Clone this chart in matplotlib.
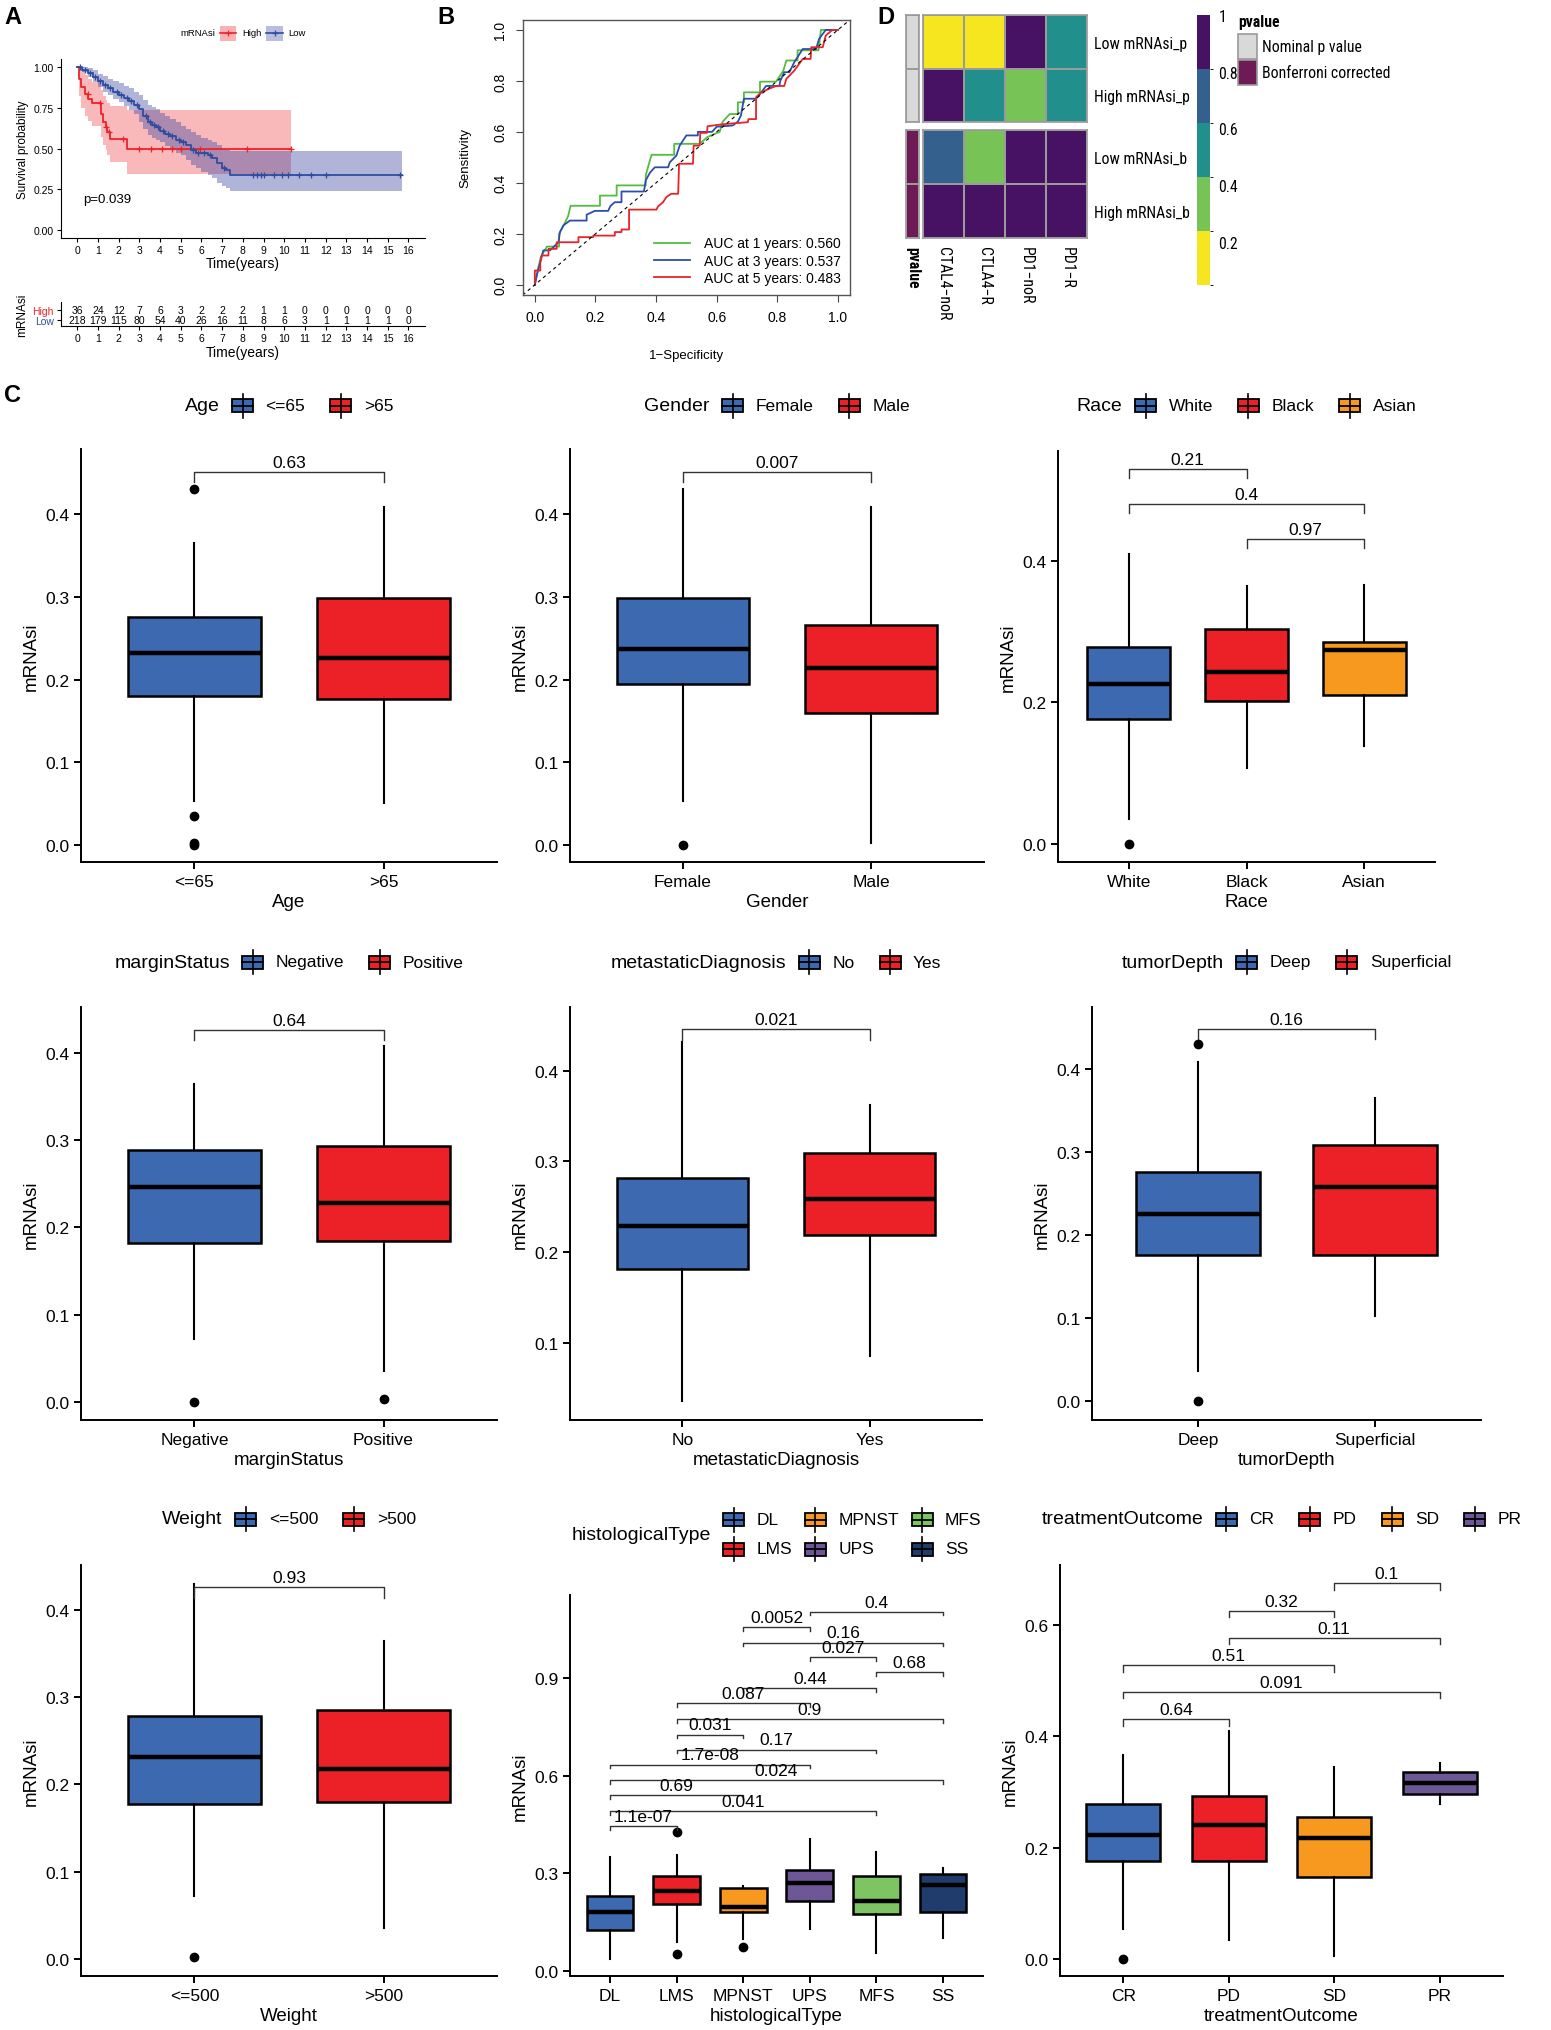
import os
import numpy as np
import matplotlib
matplotlib.use("Agg")
import matplotlib.pyplot as plt
from matplotlib import font_manager as fm
from matplotlib.patches import Rectangle
from matplotlib.colors import ListedColormap, BoundaryNorm
from matplotlib.cm import ScalarMappable

plt.rcParams["font.family"] = ["Liberation Sans", "DejaVu Sans"]

W, H = 1551, 2031

# ---------------- data: panel A (Kaplan-Meier) ----------------
high_t = [0, 0.08, 0.2, 0.37, 0.53, 0.7, 1.13, 1.26, 1.38, 1.45, 1.58, 2.42, 10.35]
high_s = [1.0, 0.93, 0.877, 0.836, 0.805, 0.78, 0.713, 0.662, 0.631, 0.6, 0.56, 0.5, 0.5]
high_up = [1.0, 1.0, 0.98, 0.95, 0.93, 0.91, 0.86, 0.82, 0.8, 0.78, 0.76, 0.738, 0.738]
high_lo = [1.0, 0.82, 0.75, 0.7, 0.67, 0.64, 0.57, 0.52, 0.49, 0.46, 0.42, 0.344, 0.344]
high_cens = [0.5, 1.1, 1.4, 1.55, 2.2, 3.0, 3.55, 4.1, 4.6, 5.0, 5.95, 8.2, 10.35]

low_t = [0, 0.25, 0.5, 0.75, 1.0, 1.25, 1.5, 1.75, 2.0, 2.25, 2.5, 2.75, 3.0, 3.2, 3.4,
         3.6, 3.8, 4.0, 4.25, 4.5, 4.75, 5.0, 5.25, 5.5, 5.75, 6.0, 6.3, 6.5, 6.75, 7.0,
         7.2, 7.4, 15.7]
low_s = [1.0, 0.985, 0.965, 0.94, 0.915, 0.89, 0.87, 0.85, 0.83, 0.81, 0.79, 0.77, 0.74,
         0.70, 0.66, 0.645, 0.63, 0.61, 0.59, 0.575, 0.555, 0.54, 0.52, 0.49, 0.475, 0.47,
         0.46, 0.44, 0.41, 0.38, 0.37, 0.338, 0.338]
low_up = [1.0, 1.0, 0.995, 0.98, 0.96, 0.945, 0.93, 0.915, 0.9, 0.885, 0.87, 0.85, 0.83,
          0.80, 0.77, 0.755, 0.74, 0.72, 0.70, 0.68, 0.66, 0.64, 0.62, 0.6, 0.58, 0.565,
          0.555, 0.54, 0.52, 0.5, 0.49, 0.484, 0.484]
low_lo = [1.0, 0.97, 0.94, 0.91, 0.877, 0.85, 0.83, 0.805, 0.785, 0.76, 0.735, 0.71, 0.66,
          0.62, 0.58, 0.565, 0.55, 0.54, 0.515, 0.495, 0.475, 0.457, 0.43, 0.40, 0.38, 0.355,
          0.34, 0.32, 0.29, 0.27, 0.255, 0.236, 0.236]
low_cens = [0.15, 0.35, 0.6, 0.85, 1.1, 1.35, 1.6, 1.9, 2.1, 2.4, 2.6, 2.9, 3.3, 3.5, 3.7,
            3.9, 4.15, 4.4, 4.6, 4.9, 5.1, 5.6, 5.85, 6.1, 6.4, 7.1, 8.5, 8.7, 8.9, 9.0,
            9.5, 9.9, 10.2, 10.7, 11.3, 12.0, 15.6]

risk_times = list(range(17))
risk_high = [36, 24, 12, 7, 6, 3, 2, 2, 2, 1, 1, 0, 0, 0, 0, 0, 0]
risk_low = [218, 179, 115, 80, 54, 40, 26, 16, 11, 8, 6, 3, 1, 1, 1, 1, 0]

# ---------------- data: panel B (ROC) ----------------
roc1_fpr = [0, 0.01, 0.02, 0.04, 0.08, 0.08, 0.094, 0.11, 0.118, 0.215, 0.215, 0.27, 0.27,
            0.366, 0.366, 0.385, 0.46, 0.46, 0.544, 0.57, 0.61, 0.62, 0.643, 0.67, 0.67,
            0.69, 0.69, 0.743, 0.743, 0.796, 0.82, 0.83, 0.867, 0.867, 0.936, 0.944, 1.0]
roc1_tpr = [0, 0.06, 0.11, 0.15, 0.15, 0.20, 0.23, 0.27, 0.31, 0.31, 0.35, 0.35, 0.39,
            0.39, 0.43, 0.51, 0.51, 0.553, 0.553, 0.58, 0.60, 0.64, 0.67, 0.67, 0.716,
            0.716, 0.755, 0.755, 0.797, 0.797, 0.84, 0.88, 0.88, 0.92, 0.92, 1.0, 1.0]
roc3_fpr = [0, 0.007, 0.018, 0.028, 0.05, 0.078, 0.083, 0.094, 0.116, 0.171, 0.171, 0.198,
            0.242, 0.25, 0.264, 0.286, 0.286, 0.36, 0.366, 0.38, 0.396, 0.44, 0.445, 0.467,
            0.478, 0.5, 0.538, 0.538, 0.585, 0.6, 0.653, 0.67, 0.68, 0.69, 0.73, 0.747,
            0.763, 0.807, 0.81, 0.823, 0.84, 0.856, 0.884, 0.928, 0.938, 0.96, 1.0]
roc3_tpr = [0, 0.04, 0.089, 0.135, 0.135, 0.167, 0.207, 0.233, 0.252, 0.252, 0.275, 0.29,
            0.29, 0.31, 0.324, 0.324, 0.366, 0.366, 0.41, 0.44, 0.461, 0.461, 0.48, 0.507,
            0.546, 0.586, 0.586, 0.6, 0.6, 0.62, 0.625, 0.64, 0.664, 0.73, 0.73, 0.755,
            0.78, 0.78, 0.8, 0.834, 0.834, 0.873, 0.925, 0.925, 0.965, 1.0, 1.0]
roc5_fpr = [0, 0, 0.018, 0.018, 0.023, 0.045, 0.045, 0.072, 0.072, 0.144, 0.144, 0.193,
            0.193, 0.264, 0.264, 0.286, 0.286, 0.311, 0.311, 0.401, 0.407, 0.423, 0.434,
            0.45, 0.473, 0.476, 0.522, 0.524, 0.544, 0.546, 0.568, 0.57, 0.62, 0.703, 0.705,
            0.73, 0.73, 0.747, 0.775, 0.796, 0.823, 0.83, 0.856, 0.884, 0.91, 0.912, 0.95,
            0.96, 0.982, 1.0]
roc5_tpr = [0, 0.056, 0.056, 0.089, 0.115, 0.115, 0.141, 0.141, 0.167, 0.167, 0.187, 0.187,
            0.193, 0.193, 0.207, 0.207, 0.217, 0.217, 0.295, 0.295, 0.308, 0.324, 0.344,
            0.357, 0.357, 0.475, 0.475, 0.546, 0.546, 0.596, 0.596, 0.622, 0.63, 0.638, 0.65,
            0.65, 0.736, 0.755, 0.77, 0.78, 0.78, 0.808, 0.84, 0.886, 0.886, 0.932, 0.932,
            0.978, 1.0, 1.0]
roc_labels = ["AUC at 1 years: 0.560", "AUC at 3 years: 0.537", "AUC at 5 years: 0.483"]

# ---------------- data: panel D (heatmap) ----------------
hm_rows_p = ["Low mRNAsi_p", "High mRNAsi_p"]
hm_rows_b = ["Low mRNAsi_b", "High mRNAsi_b"]
hm_cols = ["CTAL4\u2212noR", "CTLA4\u2212R", "PD1\u2212noR", "PD1\u2212R"]
hm_p = [[0.12, 0.15, 0.95, 0.52],
        [0.93, 0.55, 0.33, 0.50]]
hm_b = [[0.70, 0.35, 1.00, 1.00],
        [1.00, 1.00, 1.00, 1.00]]
ann_labels = ["Nominal p value", "Bonferroni corrected"]
ann_colors = ["#D9D9D9", "#6E1A55"]

# ---------------- data: panel C (boxplots) ----------------
age_groups = ["<=65", ">65"]
age_q1 = [0.180, 0.177]; age_med = [0.232, 0.226]; age_q3 = [0.275, 0.298]
age_lo = [0.053, 0.051]; age_hi = [0.365, 0.408]; age_out = [[0.43, 0.036, 0.003, 0.0], []]
age_cmp = [(0, 1, "0.63", 0.45)]

gender_groups = ["Female", "Male"]
gender_q1 = [0.195, 0.160]; gender_med = [0.237, 0.214]; gender_q3 = [0.298, 0.266]
gender_lo = [0.053, 0.003]; gender_hi = [0.43, 0.408]; gender_out = [[0.0], []]
gender_cmp = [(0, 1, "0.007", 0.45)]

race_groups = ["White", "Black", "Asian"]
race_q1 = [0.1765, 0.201, 0.21]; race_med = [0.226, 0.242, 0.273]; race_q3 = [0.278, 0.304, 0.285]
race_lo = [0.035, 0.107, 0.138]; race_hi = [0.409, 0.364, 0.366]; race_out = [[0.0], [], []]
race_cmp = [(0, 1, "0.21", 0.529), (0, 2, "0.4", 0.48), (1, 2, "0.97", 0.43)]

margin_groups = ["Negative", "Positive"]
margin_q1 = [0.182, 0.185]; margin_med = [0.246, 0.228]; margin_q3 = [0.289, 0.293]
margin_lo = [0.072, 0.035]; margin_hi = [0.365, 0.408]; margin_out = [[0.0], [0.003]]
margin_cmp = [(0, 1, "0.64", 0.4266)]

meta_groups = ["No", "Yes"]
meta_q1 = [0.1816, 0.219]; meta_med = [0.229, 0.259]; meta_q3 = [0.282, 0.3095]
meta_lo = [0.0364, 0.0853]; meta_hi = [0.432, 0.362]; meta_out = [[], []]
meta_cmp = [(0, 1, "0.021", 0.446)]

depth_groups = ["Deep", "Superficial"]
depth_q1 = [0.1763, 0.176]; depth_med = [0.2247, 0.258]; depth_q3 = [0.2755, 0.308]
depth_lo = [0.0365, 0.1027]; depth_hi = [0.408, 0.365]; depth_out = [[0.43, 0.0], []]
depth_cmp = [(0, 1, "0.16", 0.448)]

weight_groups = ["<=500", ">500"]
weight_q1 = [0.178, 0.18]; weight_med = [0.232, 0.218]; weight_q3 = [0.279, 0.285]
weight_lo = [0.072, 0.035]; weight_hi = [0.43, 0.365]; weight_out = [[0.002], []]
weight_cmp = [(0, 1, "0.93", 0.4266)]

histo_groups = ["DL", "LMS", "MPNST", "UPS", "MFS", "SS"]
histo_q1 = [0.126, 0.206, 0.182, 0.214, 0.174, 0.180]
histo_med = [0.180, 0.244, 0.196, 0.270, 0.213, 0.263]
histo_q3 = [0.231, 0.292, 0.255, 0.310, 0.290, 0.296]
histo_lo = [0.037, 0.090, 0.098, 0.129, 0.056, 0.102]
histo_hi = [0.349, 0.356, 0.260, 0.405, 0.366, 0.315]
histo_out = [[], [0.428, 0.051], [0.0716], [], [], []]
histo_cmp = [(0, 1, "1.1e-07", 0.446), (0, 4, "0.041", 0.492), (0, 2, "0.69", 0.541),
             (0, 5, "0.024", 0.587), (0, 3, "1.7e-08", 0.634), (1, 4, "0.17", 0.680),
             (1, 2, "0.031", 0.726), (1, 5, "0.9", 0.774), (1, 3, "0.087", 0.822),
             (2, 4, "0.44", 0.868), (4, 5, "0.68", 0.917), (3, 4, "0.027", 0.963),
             (2, 5, "0.16", 1.009), (2, 3, "0.0052", 1.057), (3, 5, "0.4", 1.104)]

treat_groups = ["CR", "PD", "SD", "PR"]
treat_q1 = [0.176, 0.176, 0.148, 0.296]; treat_med = [0.223, 0.240, 0.218, 0.316]
treat_q3 = [0.2785, 0.292, 0.256, 0.335]; treat_lo = [0.055, 0.035, 0.005, 0.278]
treat_hi = [0.367, 0.409, 0.345, 0.352]; treat_out = [[0.0], [], [], []]
treat_cmp = [(0, 1, "0.64", 0.431), (0, 3, "0.091", 0.48), (0, 2, "0.51", 0.528),
             (1, 3, "0.11", 0.5765), (1, 2, "0.32", 0.625), (2, 3, "0.1", 0.674)]

BLUE, RED, ORANGE = "#3D69B1", "#EC2027", "#F7991E"
PURPLE, GREEN, NAVY = "#6E5796", "#7DC463", "#1F3C6C"


# narrow font for the heatmap (ComplexHeatmap style)
def narrow_font(bold):
    prefixes = ["liberationsansnarrow", "arialnarrow", "notosans-condensed", "notosans_condensed",
                "robotocondensed", "opensanscondensed", "dejavusanscondensed"]
    bad = ["italic", "oblique", "semi", "extra", "ultra", "light", "medium", "black",
           "thin", "mono", "serif", "display"]
    files = [fe.fname for fe in fm.fontManager.ttflist]
    for pre in prefixes:
        for f in files:
            b = os.path.basename(f).lower().replace(" ", "")
            if not b.startswith(pre) or any(x in b for x in bad):
                continue
            if ("bold" in b) == bold:
                return f
    return None


reg_file = narrow_font(False)
bold_file = narrow_font(True)

fig = plt.figure(figsize=(W / 100, H / 100), dpi=100)
overlay = fig.add_axes([0, 0, 1, 1], zorder=10)
overlay.set_xlim(0, W)
overlay.set_ylim(H, 0)
overlay.axis("off")
renderer = fig.canvas.get_renderer()


def px_axes(l, t, r, b):
    return fig.add_axes([l / W, 1 - b / H, (r - l) / W, (b - t) / H])


def text_width(t):
    return t.get_window_extent(renderer).width


HM_SIZE = 12.5


def hm_fp(bold=False, size=None):
    size = size or HM_SIZE
    f = bold_file if bold else reg_file
    if f:
        return fm.FontProperties(fname=f, size=size)
    return fm.FontProperties(family="Liberation Sans", size=size,
                             weight="bold" if bold else "normal")


# scale the heatmap font so the widest row label is as wide as in the figure (~97 px)
probe = overlay.text(0, -100, "High mRNAsi_p", fontproperties=hm_fp(size=12.5))
HM_SIZE = min(12.5, 12.5 * 97.0 / text_width(probe))
probe.remove()

# ---------------- panel letters ----------------
for lab, x, y in [("A", 4, 6), ("B", 437, 6), ("D", 877, 6), ("C", 4, 384)]:
    overlay.text(x, y, lab, fontsize=17, weight="bold", va="top", ha="left")

# ---------------- panel A ----------------
KM_RED, KM_BLUE = "#EE2229", "#2F4DA0"
ax = px_axes(60.7, 60, 425, 239)
ax.fill_between(high_t, high_lo, high_up, step="post", color=KM_RED, alpha=0.32, lw=0)
ax.fill_between(low_t, low_lo, low_up, step="post", color="#3A44A0", alpha=0.4, lw=0)
ax.step(high_t, high_s, where="post", color=KM_RED, lw=1.3)
ax.step(low_t, low_s, where="post", color=KM_BLUE, lw=1.3)


def surv_at(times, surv, tc):
    idx = np.searchsorted(times, tc, side="right") - 1
    return np.asarray(surv)[idx]


ax.plot(high_cens, surv_at(high_t, high_s, high_cens), "+", color=KM_RED, ms=5, mew=0.9)
ax.plot(low_cens, surv_at(low_t, low_s, low_cens), "+", color=KM_BLUE, ms=5, mew=0.9)
ax.set_xlim(-0.8, 16.8)
ax.set_ylim(-0.05, 1.05)
ax.set_xticks(risk_times)
ax.set_yticks([0, 0.25, 0.5, 0.75, 1.0])
ax.set_yticklabels(["0.00", "0.25", "0.50", "0.75", "1.00"])
ax.tick_params(labelsize=7.5, length=3, pad=2)
for s in ["top", "right"]:
    ax.spines[s].set_visible(False)
ax.set_ylabel("Survival probability", fontsize=8.5, labelpad=3)
ax.set_xlabel("Time(years)", fontsize=10, labelpad=1)
ax.text(0.3, 0.19, "p=0.039", fontsize=9.5, va="center")

# KM legend
lx = 180
t = overlay.text(lx, 34, "mRNAsi", fontsize=6.8, va="center")
lx += text_width(t) + 5
for lab, c, fc in [("High", KM_RED, KM_RED), ("Low", KM_BLUE, "#3A44A0")]:
    overlay.add_patch(Rectangle((lx, 26.7), 16.5, 15, fc=fc, alpha=0.35, lw=0))
    overlay.plot([lx, lx + 16.5], [34, 34], color=c, lw=1.2)
    overlay.plot([lx + 8.25], [34], "+", color=c, ms=5, mew=0.9)
    t = overlay.text(lx + 22, 34, lab, fontsize=6.8, va="center")
    lx += 22 + text_width(t) + 5

# risk table
ax = px_axes(60.7, 303, 425, 327.3)
for tm, a, b in zip(risk_times, risk_high, risk_low):
    ax.text(tm, 1, str(a), ha="center", va="center", fontsize=7.5)
    ax.text(tm, 0, str(b), ha="center", va="center", fontsize=7.5)
ax.set_xlim(-0.8, 16.8)
ax.set_ylim(-0.55, 1.7)
ax.set_xticks(risk_times)
ax.set_yticks([0, 1])
ax.set_yticklabels(["Low", "High"])
ax.get_yticklabels()[0].set_color(KM_BLUE)
ax.get_yticklabels()[1].set_color(KM_RED)
ax.tick_params(labelsize=7.5, length=3, pad=2)
for s in ["top", "right"]:
    ax.spines[s].set_visible(False)
ax.set_ylabel("mRNAsi", fontsize=8.5, labelpad=3)
ax.set_xlabel("Time(years)", fontsize=10, labelpad=1)

# ---------------- panel B ----------------
ax = px_axes(522.7, 20.7, 850, 296)
ax.plot(roc1_fpr, roc1_tpr, color="#52BD3E", lw=1.3, label=roc_labels[0])
ax.plot(roc3_fpr, roc3_tpr, color="#2C4DAE", lw=1.3, label=roc_labels[1])
ax.plot(roc5_fpr, roc5_tpr, color="#E8232A", lw=1.3, label=roc_labels[2])
ax.axline((0, 0), (1, 1), color="black", ls=(0, (3, 3)), lw=0.8)
ax.set_xlim(-0.04, 1.04)
ax.set_ylim(-0.04, 1.04)
ticks = np.round(np.arange(0, 1.01, 0.2), 1)
ax.set_xticks(ticks)
ax.set_yticks(ticks)
ax.set_xticklabels([f"{v:.1f}" for v in ticks])
ax.set_yticklabels([f"{v:.1f}" for v in ticks], rotation=90, va="center")
ax.tick_params(labelsize=10, length=5, pad=6, color="#444444")
for s in ax.spines.values():
    s.set_color("#555555")
    s.set_linewidth(1.0)
ax.set_xlabel("1\u2212Specificity", fontsize=9.5, labelpad=18)
ax.set_ylabel("Sensitivity", fontsize=9.5, labelpad=16)
ax.legend(loc="lower right", bbox_to_anchor=(0.99, 0.015), frameon=False, fontsize=10,
          handlelength=2.6, handletextpad=1.0, labelspacing=0.25, borderaxespad=0)

# ---------------- panel D ----------------
vir = ["#F6E620", "#78C355", "#21908C", "#33608D", "#471164"]
hm_cmap = ListedColormap(vir)
hm_norm = BoundaryNorm(np.linspace(0.05, 1.0, 6), hm_cmap.N, clip=True)
edge = "#9A9A9A"

ax_top = px_axes(923.3, 15.7, 1087.3, 123.3)
ax_bot = px_axes(923.3, 130.7, 1087.3, 238.7)
for a, vals, rows in [(ax_top, hm_p, hm_rows_p), (ax_bot, hm_b, hm_rows_b)]:
    a.pcolormesh(np.array(vals), cmap=hm_cmap, norm=hm_norm, edgecolors=edge, linewidth=1.2)
    a.set_ylim(len(rows), 0)
    a.yaxis.tick_right()
    a.set_yticks(np.arange(len(rows)) + 0.5)
    a.set_yticklabels(rows)
    for lbl in a.get_yticklabels():
        lbl.set_fontproperties(hm_fp())
    a.tick_params(length=0, pad=5)
    a.set_xticks([])
    for s in a.spines.values():
        s.set_color(edge)
        s.set_linewidth(1.2)
ax_bot.set_xticks(np.arange(len(hm_cols)) + 0.5)
ax_bot.set_xticklabels(hm_cols, rotation=270)
for lbl in ax_bot.get_xticklabels():
    lbl.set_fontproperties(hm_fp())
ax_bot.tick_params(axis="x", length=0, pad=6)

for i, (t0, b0) in enumerate([(15.7, 123.3), (130.7, 238.7)]):
    a = px_axes(905.7, t0, 919.3, b0)
    a.pcolormesh(np.zeros((2, 1)), cmap=ListedColormap([ann_colors[i]]),
                 edgecolors=edge, linewidth=1.2)
    a.set_ylim(2, 0)
    a.set_yticks([])
    a.set_xticks([])
    for s in a.spines.values():
        s.set_color(edge)
        s.set_linewidth(1.2)
    if i == 1:
        a.set_xticks([0.5])
        a.set_xticklabels(["pvalue"], rotation=270)
        a.get_xticklabels()[0].set_fontproperties(hm_fp(bold=True))
        a.tick_params(axis="x", length=0, pad=6)

cax = px_axes(1196.7, 15.7, 1210, 285.7)
cb = fig.colorbar(ScalarMappable(norm=hm_norm, cmap=hm_cmap), cax=cax,
                  ticks=[0.2, 0.4, 0.6, 0.8, 1.0], spacing="proportional")
cb.outline.set_visible(False)
cb.ax.set_yticklabels(["0.2", "0.4", "0.6", "0.8", "1"])
for lbl in cb.ax.get_yticklabels():
    lbl.set_fontproperties(hm_fp())
cb.ax.tick_params(length=0, pad=6)

overlay.text(1238, 23, "pvalue", va="center", fontproperties=hm_fp(bold=True))
for i, (lab, c) in enumerate(zip(ann_labels, ann_colors)):
    y0 = 35 + i * 26
    overlay.add_patch(Rectangle((1238, y0), 19, 25, fc=c, ec=edge, lw=1.2))
    overlay.text(1262, y0 + 12.5, lab, va="center", fontproperties=hm_fp())


# ---------------- panel C ----------------
def key_glyph(x, cy, color):
    overlay.plot([x + 10.5, x + 10.5], [cy - 12, cy + 12], color="black", lw=1.2)
    overlay.add_patch(Rectangle((x, cy - 6.5), 21, 13, fc=color, ec="black", lw=1.3))
    overlay.plot([x, x + 21], [cy, cy], color="black", lw=1.3)


def legend_row(cx, cy, title, labels, colors):
    tt = overlay.text(0, cy, title, fontsize=14, va="center")
    lts = [overlay.text(0, cy, l, fontsize=12.5, va="center") for l in labels]
    wt = text_width(tt)
    wl = [text_width(l) for l in lts]
    total = wt + sum(12.5 + 21 + 12.5 + w for w in wl) + 12.5 * (len(wl) - 1)
    x = cx - total / 2
    tt.set_x(x)
    x += wt + 12.5
    for lt, w, c in zip(lts, wl, colors):
        key_glyph(x, cy, c)
        lt.set_x(x + 21 + 12.5)
        x += 21 + 12.5 + w + 12.5 + 12.5


def legend_grid(cx, cy1, cy2, title, labels, colors, ncol):
    cym = (cy1 + cy2) / 2
    tt = overlay.text(0, cym, title, fontsize=14, va="center")
    wt = text_width(tt)
    cols = []
    for j in range(ncol):
        items = [(labels[k], colors[k]) for k in (j * 2, j * 2 + 1)]
        lts = [overlay.text(0, cy, l, fontsize=12.5, va="center")
               for (l, c), cy in zip(items, (cy1, cy2))]
        cols.append((items, lts, max(text_width(l) for l in lts)))
    total = wt + 12.5 + sum(21 + 12.5 + w for _, _, w in cols) + 12.5 * (ncol - 1)
    x = cx - total / 2
    tt.set_x(x)
    x += wt + 12.5
    for items, lts, w in cols:
        for (l, c), lt, cy in zip(items, lts, (cy1, cy2)):
            key_glyph(x, cy, c)
            lt.set_x(x + 21 + 12.5)
        x += 21 + 12.5 + w + 12.5


def box_panel(box, groups, q1, med, q3, lo, hi, out, colors, cmps, ylim, yticks, xlabel):
    ax = px_axes(*box)
    n = len(groups)
    pos = np.arange(1, n + 1)
    stats = [dict(q1=q1[i], med=med[i], q3=q3[i], whislo=lo[i], whishi=hi[i],
                  fliers=out[i]) for i in range(n)]
    parts = ax.bxp(stats, positions=pos, widths=0.7, patch_artist=True, showcaps=False,
                   boxprops=dict(lw=1.8, edgecolor="black"),
                   medianprops=dict(color="black", lw=3.2, solid_capstyle="butt"),
                   whiskerprops=dict(lw=1.5, color="black"),
                   flierprops=dict(marker="o", mfc="black", mec="black", ms=6))
    for patch, c in zip(parts["boxes"], colors):
        patch.set_facecolor(c)
    tip = 0.012
    for i, j, lab, y in cmps:
        ax.plot([pos[i], pos[i], pos[j], pos[j]], [y - tip, y, y, y - tip],
                color="#333333", lw=1.0)
        ax.annotate(lab, xy=((pos[i] + pos[j]) / 2, y), xytext=(0, 1.5),
                    textcoords="offset points", ha="center", va="bottom", fontsize=12.5)
    ax.set_xlim(0.4, n + 0.6)
    ax.set_ylim(*ylim)
    ax.set_xticks(pos)
    ax.set_xticklabels(groups)
    ax.set_yticks(yticks)
    ax.set_yticklabels([f"{v:.1f}" for v in yticks])
    ax.tick_params(labelsize=12.5, length=5, width=1.4, colors="black")
    for s in ["top", "right"]:
        ax.spines[s].set_visible(False)
    for s in ["left", "bottom"]:
        ax.spines[s].set_linewidth(1.4)
    ax.set_ylabel("mRNAsi", fontsize=13.5)
    ax.set_xlabel(xlabel, fontsize=13.5, labelpad=3)
    return (box[0] + box[2]) / 2


y5 = [0, 0.1, 0.2, 0.3, 0.4]
cx = box_panel((81, 450, 497, 863), age_groups, age_q1, age_med, age_q3, age_lo, age_hi,
               age_out, [BLUE, RED], age_cmp, (-0.020, 0.478), y5, "Age")
legend_row(cx, 406.7, "Age", age_groups, [BLUE, RED])
cx = box_panel((570, 450, 984, 863), gender_groups, gender_q1, gender_med, gender_q3,
               gender_lo, gender_hi, gender_out, [BLUE, RED], gender_cmp, (-0.020, 0.478),
               y5, "Gender")
legend_row(cx, 406.7, "Gender", gender_groups, [BLUE, RED])
cx = box_panel((1058, 452, 1435, 863), race_groups, race_q1, race_med, race_q3, race_lo,
               race_hi, race_out, [BLUE, RED, ORANGE], race_cmp, (-0.026, 0.555),
               [0, 0.2, 0.4], "Race")
legend_row(cx, 406.7, "Race", race_groups, [BLUE, RED, ORANGE])

cx = box_panel((81, 1008, 497, 1421), margin_groups, margin_q1, margin_med, margin_q3,
               margin_lo, margin_hi, margin_out, [BLUE, RED], margin_cmp, (-0.021, 0.453),
               y5, "marginStatus")
legend_row(cx, 963, "marginStatus", margin_groups, [BLUE, RED])
cx = box_panel((570, 1008, 982, 1421), meta_groups, meta_q1, meta_med, meta_q3, meta_lo,
               meta_hi, meta_out, [BLUE, RED], meta_cmp, (0.0154, 0.470),
               [0.1, 0.2, 0.3, 0.4], "metastaticDiagnosis")
legend_row(cx, 963, "metastaticDiagnosis", meta_groups, [BLUE, RED])
cx = box_panel((1092, 1008, 1481, 1421), depth_groups, depth_q1, depth_med, depth_q3,
               depth_lo, depth_hi, depth_out, [BLUE, RED], depth_cmp, (-0.0225, 0.474),
               y5, "tumorDepth")
legend_row(cx, 963, "tumorDepth", depth_groups, [BLUE, RED])

cx = box_panel((81, 1566, 497, 1977), weight_groups, weight_q1, weight_med, weight_q3,
               weight_lo, weight_hi, weight_out, [BLUE, RED], weight_cmp, (-0.020, 0.452),
               y5, "Weight")
legend_row(cx, 1520, "Weight", weight_groups, [BLUE, RED])
histo_colors = [BLUE, RED, ORANGE, PURPLE, GREEN, NAVY]
cx = box_panel((570, 1596, 983, 1977), histo_groups, histo_q1, histo_med, histo_q3,
               histo_lo, histo_hi, histo_out, histo_colors, histo_cmp, (-0.016, 1.155),
               [0, 0.3, 0.6, 0.9], "histologicalType")
legend_grid(cx, 1520.7, 1550, "histologicalType",
            ["DL", "LMS", "MPNST", "UPS", "MFS", "SS"],
            [BLUE, RED, ORANGE, PURPLE, GREEN, NAVY], 3)
treat_colors = [BLUE, RED, ORANGE, PURPLE]
cx = box_panel((1060, 1566, 1503, 1977), treat_groups, treat_q1, treat_med, treat_q3,
               treat_lo, treat_hi, treat_out, treat_colors, treat_cmp, (-0.03, 0.707),
               [0, 0.2, 0.4, 0.6], "treatmentOutcome")
legend_row(cx, 1520, "treatmentOutcome", treat_groups, treat_colors)

fig.savefig("out.png", dpi=100)
